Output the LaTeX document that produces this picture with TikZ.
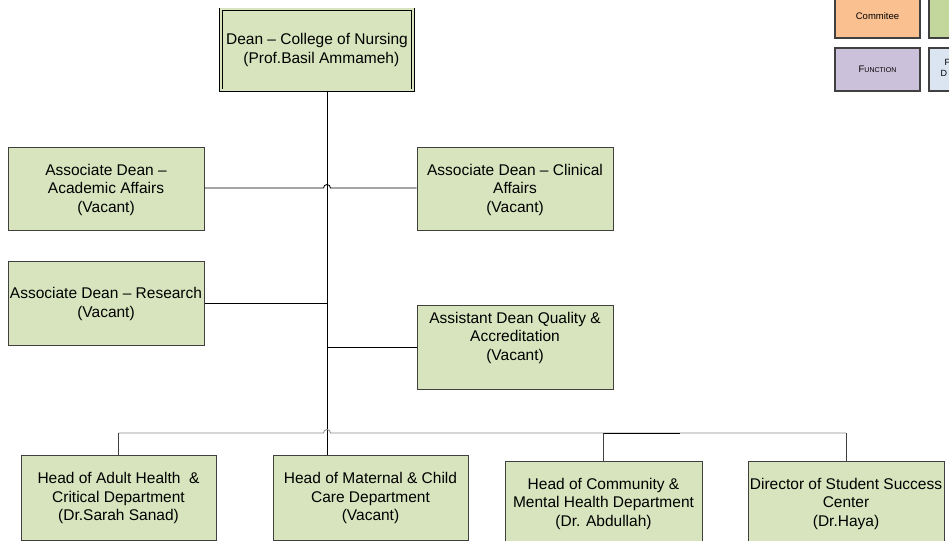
\documentclass[tikz,border=0pt]{standalone}
\usepackage{fontspec}
\setmainfont{Liberation Sans}
\usetikzlibrary{calc}
\definecolor{boxgreen}{RGB}{215,228,189}
\definecolor{boxline}{RGB}{64,64,64}
\definecolor{busgray}{RGB}{140,140,140}
\definecolor{legorange}{RGB}{250,192,144}
\definecolor{leggreen}{RGB}{195,214,155}
\definecolor{legpurple}{RGB}{204,193,218}
\definecolor{legblue}{RGB}{219,229,241}
\tikzset{
  post/.style={draw=boxline, line width=1pt, fill=boxgreen, minimum width=196pt,
    minimum height=83pt, inner sep=0pt, align=center,
    font=\fontsize{15.5}{18.5}\selectfont},
  legbox/.style={draw=boxline, line width=1.3pt, minimum width=85pt,
    minimum height=43pt, inner sep=0pt, font=\fontsize{9.5}{11}\selectfont},
  link/.style={line width=0.85pt},
}
\begin{document}
\begin{tikzpicture}[x=1pt,y=1pt]
        \useasboundingbox (0,0) rectangle (949,540);
        \node [post, draw=black, line width=0.9pt, double=boxgreen, double distance=2pt,
          minimum width=192pt, minimum height=81pt] (dean) at (317,490)
          {Dean -- College of Nursing\\ \ \ (Prof.Basil Ammameh)};
        \node [post] (acad) at (106,350.5) {Associate Dean --\\ Academic Affairs\\ (Vacant)};
        \node [post] (clin) at (515,350.5) {Associate Dean -- Clinical\\ Affairs\\ (Vacant)};
        \node [post, minimum height=84pt] (research) at (106,236) {Associate Dean -- Research\\ (Vacant)};
        \node [post, minimum height=84pt] (quality) at (515,192)
          {Assistant Dean Quality \&\\ Accreditation\\ (Vacant)\\ \strut};
        \node [post, minimum width=195pt, minimum height=84pt] (adult) at (118.5,42)
          {Head of Adult Health \ \&\\ Critical Department\\ (Dr.Sarah Sanad)};
        \node [post, minimum width=195pt, minimum height=84pt] (maternal) at (370.5,42)
          {Head of Maternal \& Child\\ Care Department\\ (Vacant)};
        \node [post, minimum width=197pt, minimum height=84pt] (community) at (603.5,36.5)
          {Head of Community \&\\ Mental Health Department\\ (Dr. Abdullah)};
        \node [post, minimum height=84pt] (success) at (846,36.5)
          {Director of Student Success\\ Center\\ (Dr.Haya)};
        \coordinate (spine) at (327,449);
        \coordinate (bus) at (327,107);
        \coordinate (busend) at (680,107);
        \draw [link] (spine) -- (spine |- maternal.north);
        \draw [link] (acad.east |- 0,352) -- ($(spine |- 0,352)+(-3.5,0)$)
          arc [start angle=180, end angle=0, radius=3.5] -- (clin.west |- 0,352);
        \draw [link] (research.east |- 0,237) -- (spine |- 0,237);
        \draw [link] (spine |- 0,193) -- (quality.west |- 0,193);
        \draw [link, busgray] (adult.north |- bus) -- ($(bus)+(-3.5,0)$)
          arc [start angle=180, end angle=0, radius=3.5] -- (success.north |- bus);
        \draw [link] (community.north |- bus) -- (busend);
        \draw [link, boxline] (adult.north |- bus) -- (adult.north);
        \draw [link, boxline] (community.north |- bus) -- (community.north);
        \draw [link, boxline] (success.north |- bus) -- (success.north);
        \node [legbox, fill=legorange, minimum height=44pt] (committee) at (877.5,524) {Commitee};
        \node [legbox, fill=leggreen, minimum height=44pt] (legtwo) at (971.5,524) {};
        \node [legbox, fill=legpurple] (function) at (877.5,470.5)
          {F{\fontsize{7}{8}\selectfont UNCTION}};
        \node [legbox, fill=legblue] (legfour) at (971.5,470.5) {};
        \node [anchor=base west, inner sep=0pt, font=\fontsize{9}{10}\selectfont] (legf) at (944.5,474) {F};
        \node [anchor=base west, inner sep=0pt, font=\fontsize{9}{10}\selectfont] (legd) at (940.5,463) {D};
      \end{tikzpicture}
\end{document}
